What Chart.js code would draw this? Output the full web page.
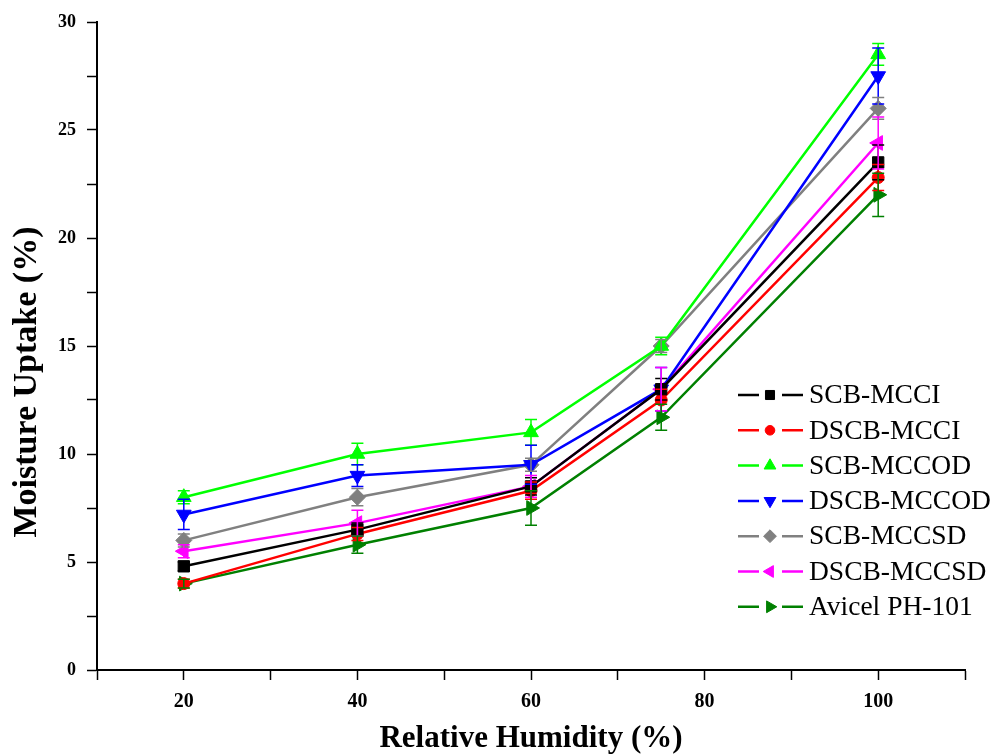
<!DOCTYPE html>
<html>
<head>
<meta charset="utf-8">
<script src="https://cdn.jsdelivr.net/npm/chart.js@4.4.0/dist/chart.umd.min.js"></script>
<style>
  body { margin: 0; background: #fff; }
</style>
</head>
<body>
<canvas id="myChart" width="997" height="754"></canvas>
<script>
var humidity = [20, 40, 60, 75, 100];

var labels = ['SCB-MCCI', 'DSCB-MCCI', 'SCB-MCCOD', 'DSCB-MCCOD', 'SCB-MCCSD', 'DSCB-MCCSD', 'Avicel PH-101'];

var scbMcci    = [4.8, 6.5, 8.5, 13.0, 23.5];
var dscbMcci   = [4.0, 6.3, 8.3, 12.5, 22.8];
var scbMccod   = [8.0, 10.0, 11.0, 15.0, 28.5];
var dscbMccod  = [7.2, 9.0, 9.5, 13.0, 27.5];
var scbMccsd   = [6.0, 8.0, 9.5, 15.0, 26.0];
var dscbMccsd  = [5.5, 6.8, 8.5, 13.0, 24.4];
var avicel     = [4.0, 5.8, 7.5, 11.7, 22.0];

// standard deviations
var scbMcciErr   = [0.2, 0.3, 0.4, 0.5, 0.8];
var dscbMcciErr  = [0.2, 0.3, 0.4, 0.5, 0.6];
var scbMccodErr  = [0.3, 0.5, 0.6, 0.4, 0.5];
var dscbMccodErr = [0.7, 0.5, 0.9, 1.0, 1.3];
var scbMccsdErr  = [0.3, 0.4, 0.3, 0.3, 0.5];
var dscbMccsdErr = [0.3, 0.6, 0.5, 1.0, 1.2];
var avicelErr    = [0.2, 0.4, 0.8, 0.6, 1.0];

var yTicks = [0, 5, 10, 15, 20, 25, 30];
var xTicks = [20, 40, 60, 80, 100];

var serif = "'Liberation Serif', 'Times New Roman', serif";

function toPoints(values) {
  return values.map(function (v, i) { return { x: humidity[i], y: v }; });
}

function series(label, values, errors, color, style, rotation, radius) {
  return {
    label: label,
    data: toPoints(values),
    errors: errors,
    borderColor: color,
    backgroundColor: color,
    borderWidth: 2.5,
    pointStyle: style,
    rotation: rotation,
    pointRadius: radius,
    pointHoverRadius: radius,
    pointBorderWidth: 1,
    tension: 0
  };
}

// vertical error bars with caps
var errorBars = {
  id: 'errorBars',
  afterDatasetsDraw: function (chart) {
    var ctx = chart.ctx;
    var xs = chart.scales.x, ys = chart.scales.y;
    ctx.save();
    chart.data.datasets.forEach(function (ds) {
      ctx.strokeStyle = ds.borderColor;
      ctx.lineWidth = 1.5;
      ds.data.forEach(function (p, i) {
        var e = ds.errors[i];
        var x = xs.getPixelForValue(p.x);
        var y1 = ys.getPixelForValue(p.y + e);
        var y2 = ys.getPixelForValue(p.y - e);
        ctx.beginPath();
        ctx.moveTo(x, y1); ctx.lineTo(x, y2);
        ctx.moveTo(x - 6, y1); ctx.lineTo(x + 6, y1);
        ctx.moveTo(x - 6, y2); ctx.lineTo(x + 6, y2);
        ctx.stroke();
      });
    });
    ctx.restore();
  }
};

// y axis title, sitting a little below the middle of the axis
var yTitle = {
  id: 'yTitle',
  afterDraw: function (chart) {
    var ctx = chart.ctx;
    var area = chart.chartArea;
    ctx.save();
    ctx.translate(27, (area.top + area.bottom) / 2 + 36);
    ctx.rotate(-Math.PI / 2);
    ctx.fillStyle = '#000';
    ctx.font = 'bold 34px ' + serif;
    ctx.textAlign = 'center';
    ctx.textBaseline = 'middle';
    ctx.fillText('Moisture Uptake (%)', 0, 0);
    ctx.restore();
  }
};

// legend: line - marker - line, then the name
var lineLegend = {
  id: 'lineLegend',
  afterDraw: function (chart) {
    var ctx = chart.ctx;
    ctx.save();
    chart.data.datasets.forEach(function (ds, i) {
      var y = 395 + i * 35.3;
      ctx.strokeStyle = ds.borderColor;
      ctx.fillStyle = ds.backgroundColor;
      ctx.lineWidth = 2.5;
      ctx.beginPath();
      ctx.moveTo(738, y); ctx.lineTo(759, y);
      ctx.moveTo(782, y); ctx.lineTo(803, y);
      ctx.stroke();
      ctx.lineWidth = 1;
      Chart.helpers.drawPoint(ctx, {
        pointStyle: ds.pointStyle,
        rotation: ds.rotation,
        radius: ds.pointRadius * 0.8,
        borderWidth: 1
      }, 770, y);
      ctx.fillStyle = '#000';
      ctx.font = '27.5px ' + serif;
      ctx.textBaseline = 'middle';
      ctx.textAlign = 'left';
      ctx.fillText(ds.label, 809, y + 1);
    });
    ctx.restore();
  }
};

var ctx = document.getElementById('myChart').getContext('2d');

new Chart(ctx, {
  type: 'line',
  data: {
    datasets: [
      series(labels[0], scbMcci, scbMcciErr, '#000000', 'rect', 0, 8),
      series(labels[1], dscbMcci, dscbMcciErr, '#ff0000', 'circle', 0, 6),
      series(labels[2], scbMccod, scbMccodErr, '#00ff00', 'triangle', 0, 8.5),
      series(labels[3], dscbMccod, dscbMccodErr, '#0000ff', 'triangle', 180, 8.5),
      series(labels[4], scbMccsd, scbMccsdErr, '#808080', 'rectRot', 0, 8),
      series(labels[5], dscbMccsd, dscbMccsdErr, '#ff00ff', 'triangle', -90, 8.5),
      series(labels[6], avicel, avicelErr, '#008000', 'triangle', 90, 8.5)
    ]
  },
  options: {
    responsive: false,
    animation: false,
    layout: { padding: { top: 22, right: 32, left: 0, bottom: 0 } },
    plugins: {
      legend: { display: false },
      tooltip: { enabled: false }
    },
    scales: {
      x: {
        type: 'linear',
        min: 10,
        max: 110,
        afterFit: function (axis) { axis.height = 84; },
        border: { color: '#000', width: 2 },
        grid: { drawOnChartArea: false, tickLength: 10, tickWidth: 1.5, tickColor: '#000' },
        ticks: {
          stepSize: 10,
          autoSkip: false,
          maxRotation: 0,
          padding: 10,
          color: '#000',
          font: { family: serif, size: 20, weight: 'bold' },
          callback: function (v) { return xTicks.indexOf(v) >= 0 ? String(v) : ''; }
        },
        title: {
          display: true,
          text: 'Relative Humidity (%)',
          color: '#000',
          font: { family: serif, size: 31, weight: 'bold', lineHeight: 1 },
          padding: { top: 0, bottom: 0 }
        }
      },
      y: {
        min: 0,
        max: 30,
        afterFit: function (axis) { axis.width = 97; },
        border: { color: '#000', width: 2 },
        grid: { drawOnChartArea: false, tickLength: 10, tickWidth: 1.5, tickColor: '#000' },
        ticks: {
          stepSize: 2.5,
          autoSkip: false,
          padding: 11,
          color: '#000',
          font: { family: serif, size: 18, weight: 'bold' },
          callback: function (v) { return yTicks.indexOf(v) >= 0 ? String(v) : ''; }
        }
      }
    }
  },
  plugins: [errorBars, yTitle, lineLegend]
});
</script>
</body>
</html>
